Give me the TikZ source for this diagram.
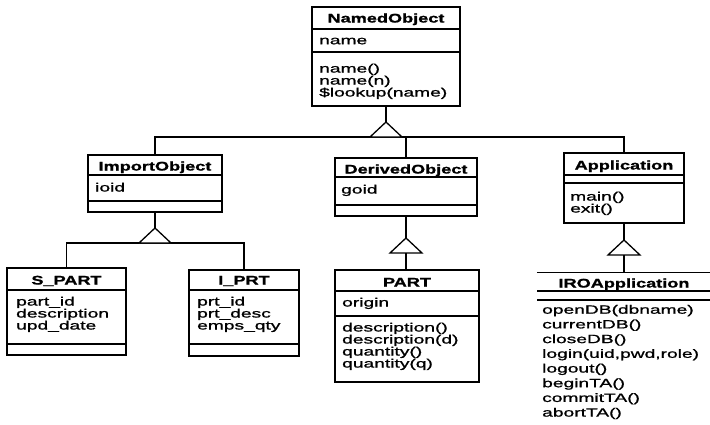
\documentclass[tikz,border=0pt]{standalone}
\usepackage{fontspec}
\setmainfont{Liberation Sans}[FakeStretch=1.6, FakeBold=1.2]
\newfontfamily\headfont{Liberation Sans}[FakeStretch=1.45, BoldFeatures={FakeBold=1.2}]
\usetikzlibrary{fit}

\tikzset{
  cls/.style={draw, line width=1.5pt, inner sep=0pt},
  rule/.style={line width=1.2pt},
  link/.style={line width=1.3pt},
  head/.style={font=\headfont\bfseries\fontsize{12.5}{13}\selectfont, anchor=base, inner sep=0pt},
  memb/.style={font=\fontsize{12}{12}\selectfont, align=left, anchor=north west, inner sep=0pt, execute at begin node=\strut},
  pics/gentri/.style={code={
    \coordinate (-apex) at (0,0);
    \coordinate (-base) at (0,15);
    \draw[link, fill=white] (-apex) -- (-16,15) -- (16,15) -- cycle;}}
}

% box name, corners x1 y1 x2 y2, two compartment rules
\newcommand{\classbox}[7]{%
  \node[cls, fit={(#2,#3) (#4,#5)}] (#1) {};
  \draw[rule] (#2,#6) -- (#4,#6);
  \draw[rule] (#2,#7) -- (#4,#7);}

\begin{document}
\begin{tikzpicture}[x=1pt,y=-1pt]
\useasboundingbox (0,0) rectangle (710,424);

% classes
\classbox{named}{312}{7}{460}{106}{29}{52}
\node[head] (namedT) at (386,22.5) {NamedObject};
\node[memb] (namedA) at (319,35.6) {name};
\node[memb] (namedO) at (319,63.6) {name()\\name(n)\\\$lookup(name)};

\classbox{import}{88}{155}{222}{212}{175}{201}
\node[head] (importT) at (155,170.5) {ImportObject};
\node[memb] (importA) at (95,182.6) {ioid};

\classbox{derived}{335}{158}{477}{216}{177}{205}
\node[head] (derivedT) at (406,173.5) {DerivedObject};
\node[memb] (derivedA) at (341,184.6) {goid};

\classbox{app}{564}{153}{684}{223}{175}{183}
\node[head] (appT) at (624,169.5) {Application};
\node[memb] (appO) at (570,191.6) {main()\\exit()};

\classbox{spart}{7}{268}{126}{355}{290}{344}
\node[head] (spartT) at (66.5,284.5) {S\_PART};
\node[memb] (spartA) at (16,296.6) {part\_id\\description\\upd\_date};

\classbox{iprt}{189}{270}{299}{356}{290}{344}
\node[head] (iprtT) at (244,284.5) {I\_PRT};
\node[memb] (iprtA) at (197,296.6) {prt\_id\\prt\_desc\\emps\_qty};

\classbox{part}{335}{270}{479}{382}{291}{316}
\node[head] (partT) at (407,286.5) {PART};
\node[memb] (partA) at (342,297.6) {origin};
\node[memb] (partO) at (342,322.6) {description()\\description(d)\\quantity()\\quantity(q)};

% IROApplication runs off the page
\node[fit={(537,273) (712,440)}, inner sep=0pt] (iro) {};
\draw[rule] (iro.north west) -- (iro.north east);
\draw[rule] (537,291) -- (712,291);
\draw[rule] (537,300) -- (712,300);
\node[head] (iroT) at (624,287.5) {IROApplication};
\node[memb, font=\fontsize{12}{14.7}\selectfont] (iroO) at (542,304.8)
  {openDB(dbname)\\currentDB()\\closeDB()\\login(uid,pwd,role)\\logout()\\beginTA()\\commitTA()\\abortTA()};

% generalisations
\draw[link] (import.north) -- (import.north |- 0,137) -- (app.north |- 0,137) -- (app.north);
\draw[link] (derived.north) -- (derived.north |- 0,137);
\pic (t1) at (386,122) {gentri};
\draw[link] (named.south) -- (t1-apex);

\draw[link] (spart.north) -- (spart.north |- 0,243) -- (iprt.north |- 0,243) -- (iprt.north);
\pic (t2) at (155,228) {gentri};
\draw[link] (import.south) -- (t2-apex);

\pic (t3) at (406,238) {gentri};
\draw[link] (derived.south -| t3-apex) -- (t3-apex);
\draw[link] (t3-base) -- (t3-base |- part.north);

\pic (t4) at (624,240) {gentri};
\draw[link] (app.south) -- (t4-apex);
\draw[link] (t4-base) -- (t4-base |- iro.north);
\end{tikzpicture}
\end{document}
